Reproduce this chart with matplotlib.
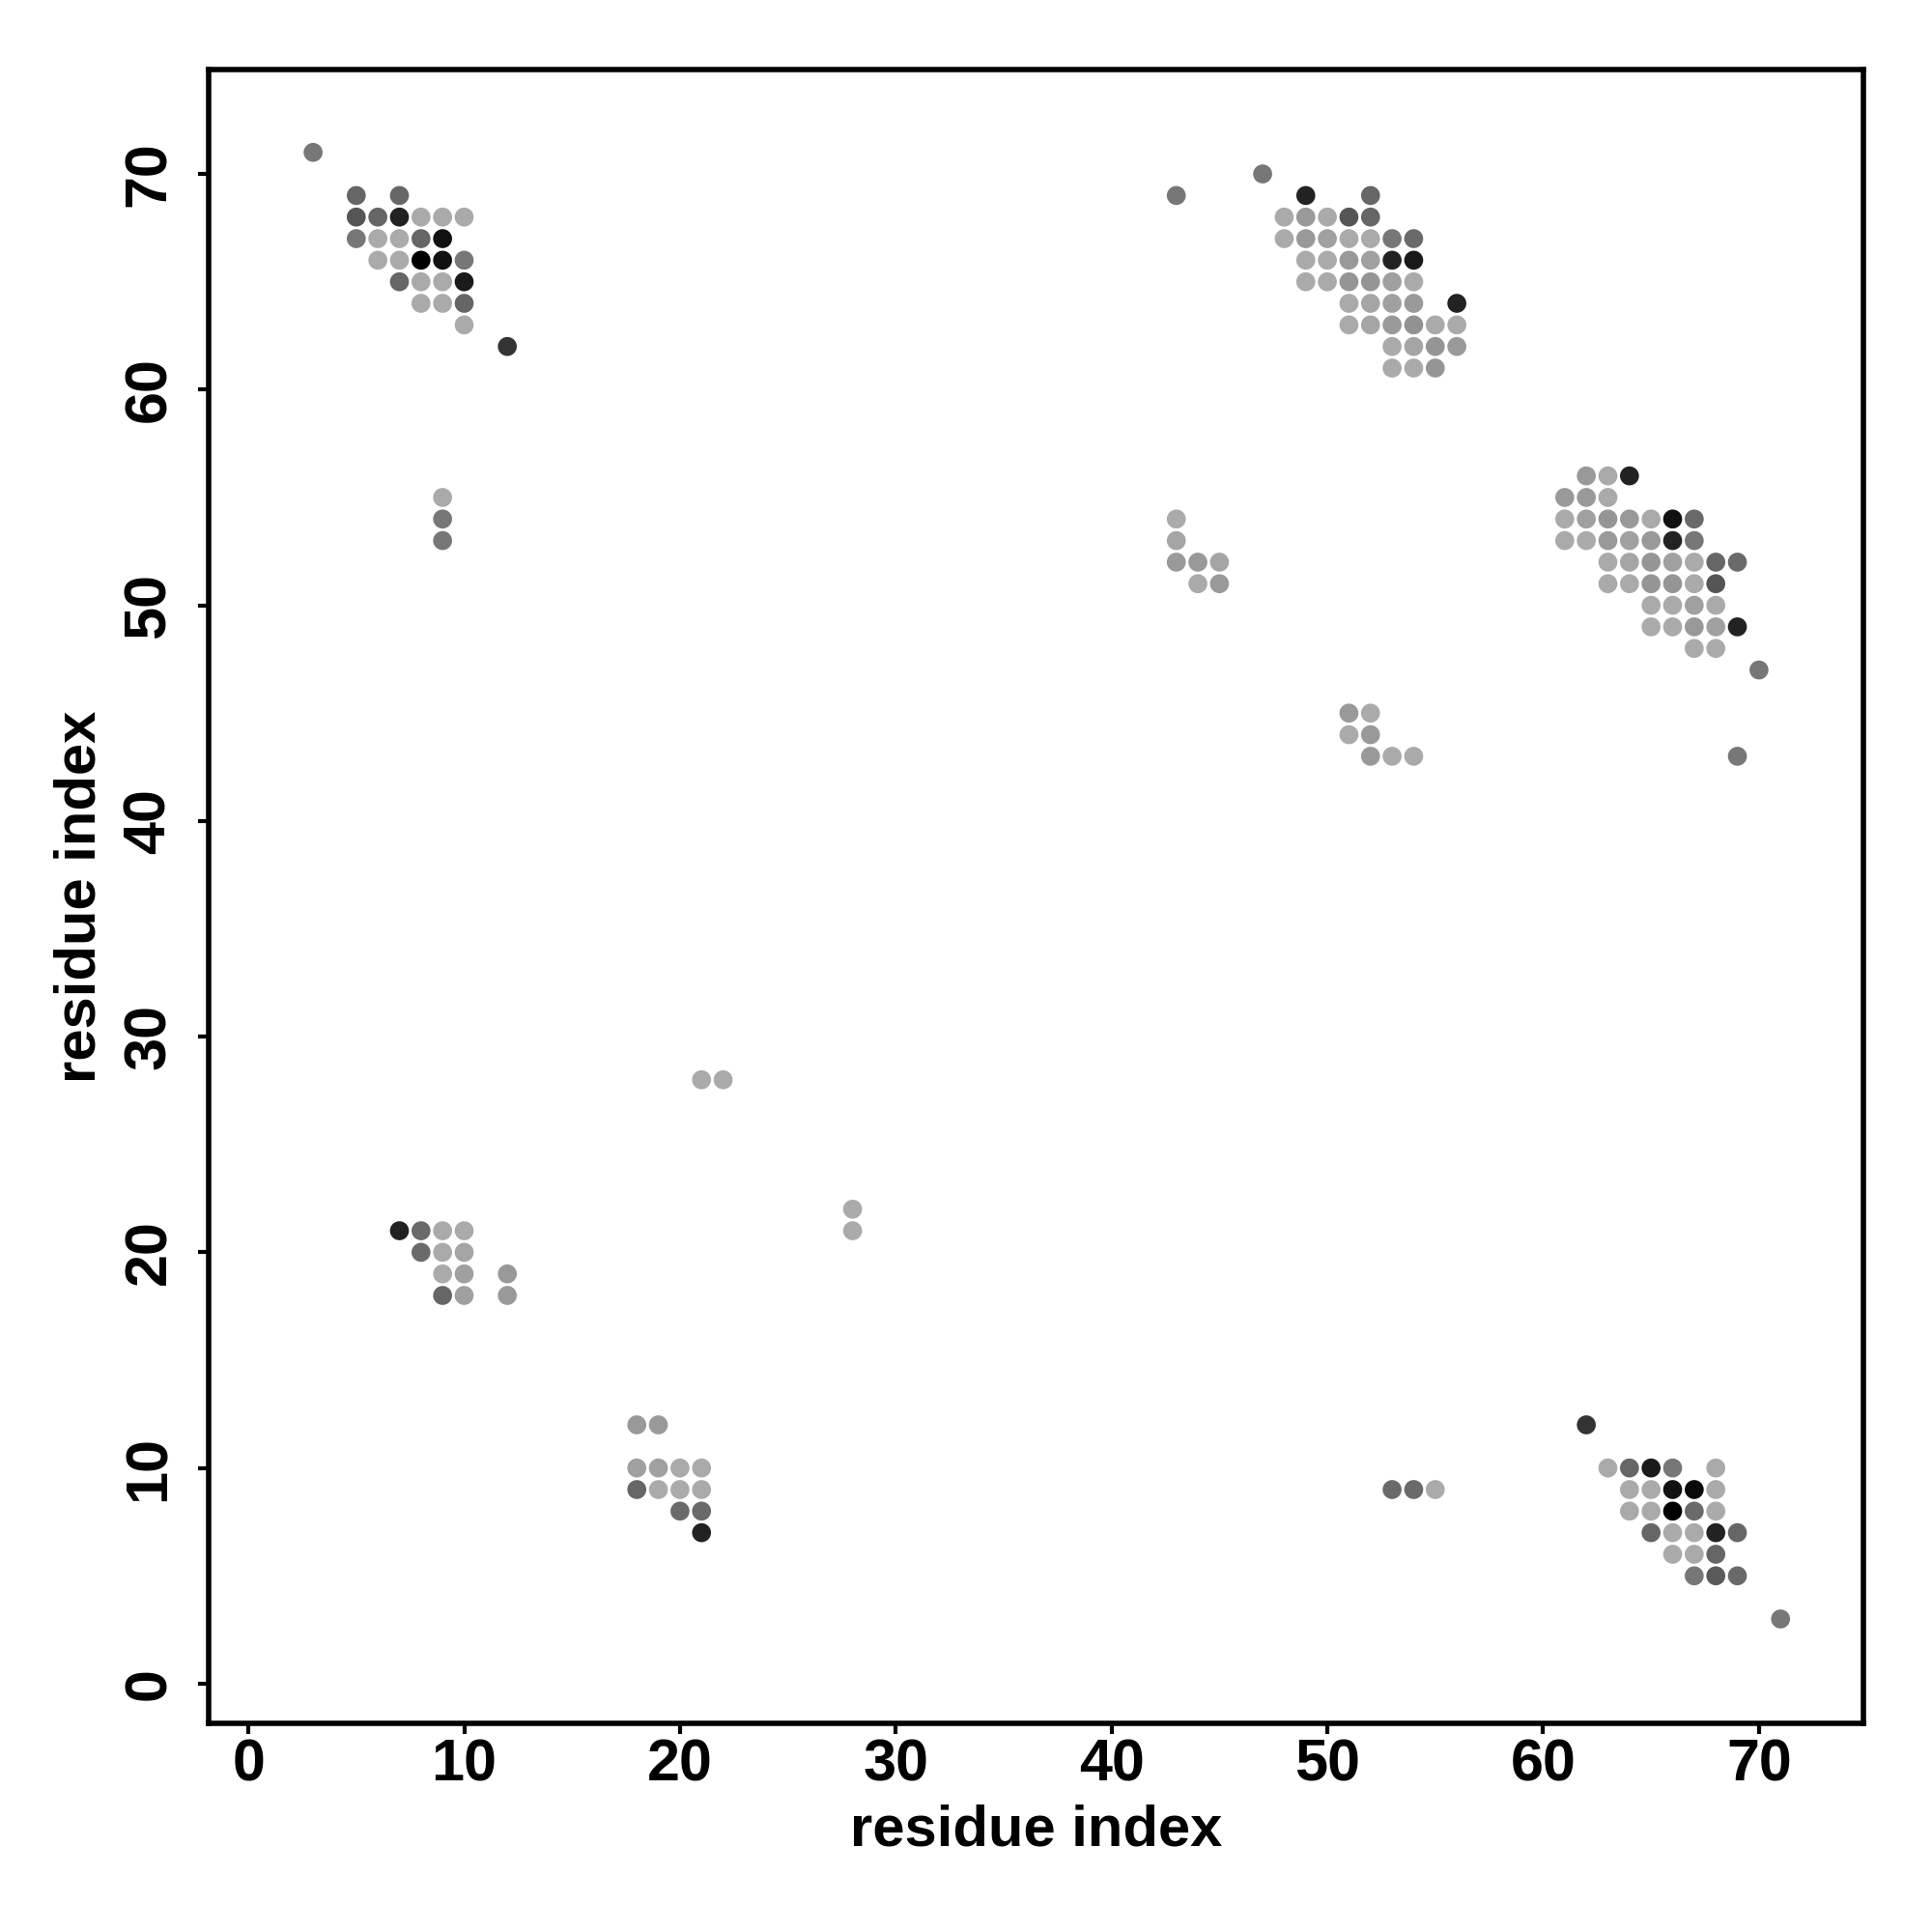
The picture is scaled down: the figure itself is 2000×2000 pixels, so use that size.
import matplotlib
matplotlib.use("Agg")
import matplotlib.pyplot as plt

plt.rcParams['font.family'] = ['Liberation Sans', 'DejaVu Sans']

# residue pairs (i, j) and grey intensity (0 = black, 255 = white)
res_i = [
    3, 5, 7, 5, 6, 7, 8, 9, 10, 5, 6, 7, 8, 9, 6, 7, 8, 9, 10, 7, 8, 9, 10, 8, 9, 10, 10, 12,
    47, 43, 49, 52, 48, 49, 50, 51, 52, 48, 49, 50, 51, 52, 53, 54, 49, 50, 51, 52, 53, 54,
    49, 50, 51, 52, 53, 54, 51, 52, 53, 54, 56, 51, 52, 53, 54, 55, 56, 53, 54, 55, 56, 53, 54, 55,
    62, 63, 64, 61, 62, 63, 61, 62, 63, 64, 65, 66, 67, 61, 62, 63, 64, 65, 66, 67,
    63, 64, 65, 66, 67, 68, 69, 63, 64, 65, 66, 67, 68, 65, 66, 67, 68, 65, 66, 67, 68, 69,
    67, 68, 70, 69,
    9, 9, 9,
    43, 43, 43, 44, 45, 44, 45,
    51, 52, 51, 52, 52, 53, 54,
    21, 22, 28, 28,
    7, 8, 9, 10, 8, 9, 10, 9, 10, 12, 9, 10, 12,
    18, 19, 18, 19, 20, 21, 18, 19, 20, 21, 20, 21, 21,
    53, 54, 55,
    62, 63, 64, 65, 66, 68, 64, 65, 66, 67, 68, 64, 65, 66, 67, 68, 65, 66, 67, 68, 69,
    66, 67, 68, 67, 68, 69, 71,
]
res_j = [
    71, 69, 69, 68, 68, 68, 68, 68, 68, 67, 67, 67, 67, 67, 66, 66, 66, 66, 66, 65, 65, 65, 65, 64, 64, 64, 63, 62,
    70, 69, 69, 69, 68, 68, 68, 68, 68, 67, 67, 67, 67, 67, 67, 67, 66, 66, 66, 66, 66, 66,
    65, 65, 65, 65, 65, 65, 64, 64, 64, 64, 64, 63, 63, 63, 63, 63, 63, 62, 62, 62, 62, 61, 61, 61,
    56, 56, 56, 55, 55, 55, 54, 54, 54, 54, 54, 54, 54, 53, 53, 53, 53, 53, 53, 53,
    52, 52, 52, 52, 52, 52, 52, 51, 51, 51, 51, 51, 51, 50, 50, 50, 50, 49, 49, 49, 49, 49,
    48, 48, 47, 43,
    55, 54, 53,
    54, 53, 52, 52, 52, 51, 51,
    45, 45, 44, 44, 43, 43, 43,
    28, 28, 22, 21,
    21, 21, 21, 21, 20, 20, 20, 19, 19, 19, 18, 18, 18,
    12, 12, 10, 10, 10, 10, 9, 9, 9, 9, 8, 8, 7,
    9, 9, 9,
    12, 10, 10, 10, 10, 10, 9, 9, 9, 9, 9, 8, 8, 8, 8, 8, 7, 7, 7, 7, 7,
    6, 6, 6, 5, 5, 5, 3,
]
shade = [
    0x77, 0x66, 0x66, 0x55, 0x66, 0x22, 0xaa, 0xaa, 0xaa, 0x77, 0xaa, 0xaa, 0x66, 0x11, 0xaa, 0xaa, 0x00, 0x11, 0x77,
    0x66, 0xaa, 0xaa, 0x1a, 0xaa, 0xaa, 0x66, 0xaa, 0x33,
    0x77, 0x77, 0x22, 0x66, 0xaa, 0x99, 0xaa, 0x55, 0x66, 0xaa, 0x99, 0xa0, 0xaa, 0xaa, 0x77, 0x6a,
    0xaa, 0xaa, 0x99, 0xa0, 0x22, 0x1a,
    0xaa, 0xaa, 0x95, 0x95, 0xa0, 0xaa, 0xaa, 0xa5, 0xa0, 0x99, 0x22, 0xaa, 0xa5, 0x99, 0x92, 0xaa, 0xaa,
    0xaa, 0xa5, 0x95, 0x99, 0xaa, 0xaa, 0x95,
    0x99, 0xaa, 0x22, 0x99, 0x99, 0xaa, 0xaa, 0xa0, 0x95, 0x99, 0xaa, 0x11, 0x6a, 0xaa, 0xaa, 0x99, 0xa0, 0x99, 0x22, 0x77,
    0xaa, 0xa5, 0x95, 0xa0, 0xaa, 0x66, 0x6a, 0xaa, 0xaa, 0x95, 0x95, 0xaa, 0x55, 0xaa, 0xaa, 0xa0, 0xaa,
    0xaa, 0xaa, 0x99, 0xa0, 0x22,
    0xaa, 0xaa, 0x77, 0x77,
    0xaa, 0x77, 0x77,
    0xaa, 0xa5, 0x99, 0x99, 0xa5, 0xaa, 0x99,
    0x99, 0xaa, 0xaa, 0x99, 0x99, 0xaa, 0xaa,
    0xaa, 0xaa, 0xaa, 0xaa,
    0x22, 0x6a, 0xaa, 0xaa, 0x6a, 0xaa, 0xa5, 0xaa, 0xa0, 0x99, 0x66, 0xa0, 0x99,
    0x99, 0x99, 0xa0, 0xa0, 0xaa, 0xaa, 0x66, 0xaa, 0xaa, 0xaa, 0x6a, 0x6a, 0x22,
    0x6a, 0x6a, 0xaa,
    0x33, 0xaa, 0x66, 0x1a, 0x77, 0xaa, 0xaa, 0xaa, 0x11, 0x0a, 0xaa, 0xaa, 0xaa, 0x00, 0x6a, 0xaa,
    0x66, 0xaa, 0xaa, 0x22, 0x66,
    0xaa, 0xaa, 0x66, 0x77, 0x5a, 0x6a, 0x77,
]
ticks = [0, 10, 20, 30, 40, 50, 60, 70]
axis_label = "residue index"

colors = [(v / 255.0, v / 255.0, v / 255.0) for v in shade]

fig = plt.figure(figsize=(20, 20), dpi=100)
ax = fig.add_axes([0.108, 0.108, 0.8565, 0.856])
ax.scatter(res_i, res_j, c=colors, s=200, linewidths=0, zorder=3)

ax.set_xlim(-1.84, 74.84)
ax.set_ylim(-1.84, 74.84)
ax.set_xticks(ticks)
ax.set_yticks(ticks)
ax.set_xticklabels([str(t) for t in ticks], fontsize=44, fontweight='bold')
ax.set_yticklabels([str(t) for t in ticks], fontsize=44, fontweight='bold',
                   rotation=90, va='center')
ax.tick_params(axis='both', direction='out', length=8, width=3, color='black')
ax.tick_params(axis='x', pad=3)
ax.tick_params(axis='y', pad=15)
for sp in ax.spines.values():
    sp.set_linewidth(4)
    sp.set_color('black')

ax.set_xlabel(axis_label, fontsize=43, fontweight='bold', labelpad=8)
ax.set_ylabel(axis_label, fontsize=43, fontweight='bold', labelpad=12)

fig.savefig("out.png", dpi=100, facecolor='white')
